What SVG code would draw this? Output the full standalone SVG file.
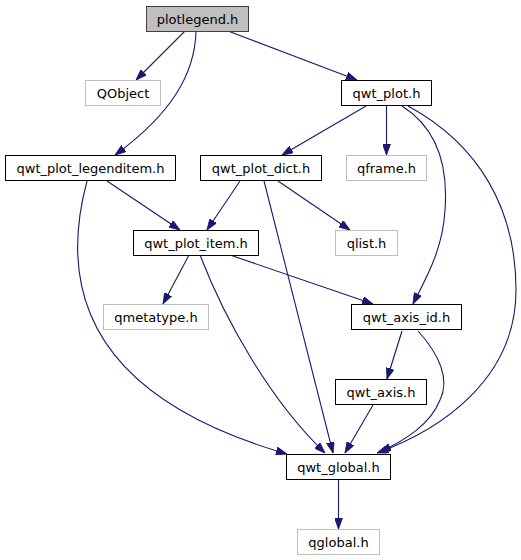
<svg xmlns="http://www.w3.org/2000/svg" width="521" height="560" viewBox="0 0 521 560">
<style>
.n rect{fill:#fff;stroke:#000;stroke-width:1}
.g rect{fill:#fff;stroke:#bfbfbf;stroke-width:1}
.r rect{fill:#bfbfbf;stroke:#404040;stroke-width:1}
text{font-family:"DejaVu Sans",sans-serif;font-size:13px;text-anchor:middle;fill:#000}
#edges path{fill:none;stroke:#191970;stroke-width:1.1;marker-end:url(#a)}
</style>
<defs>
<marker id="a" viewBox="0 0 11 8" refX="11" refY="4" markerWidth="11" markerHeight="8" markerUnits="userSpaceOnUse" orient="auto">
<path d="M0,0 L11,4 L0,8 z" fill="#191970" stroke="#191970" stroke-width="0.8"/>
</marker>
</defs>
<rect width="521" height="560" fill="#fff"/>
<g id="edges">
<path d="M185,31 L136,80"/>
<path d="M196,31 C195,75 170,115 115,155"/>
<path d="M228,31 L357,80"/>
<path d="M366,106 L282,155"/>
<path d="M386.5,106 L386.5,155"/>
<path d="M402,106 C440,130 448,170 445,210 C443,250 425,280 413,304"/>
<path d="M408,106 C480,145 516,210 516,290 C516,380 440,430 377,453"/>
<path d="M107,181 L180,230"/>
<path d="M87,181 C55,300 100,400 287,454"/>
<path d="M240,181 L207,230"/>
<path d="M278,181 L350,230"/>
<path d="M264,181 L333,453"/>
<path d="M189,255 L163,304"/>
<path d="M200,255 C225,320 270,400 325,453"/>
<path d="M230,255 L373,304"/>
<path d="M402,331 L387,379"/>
<path d="M418,331 C440,355 450,380 440,400 C430,425 405,440 380,452"/>
<path d="M373,405 L345,453"/>
<path d="M338.5,479 L338.5,529"/>
</g>
<g id="plotlegend" class="r"><rect x="146.5" y="6.5" width="102" height="25"/><text x="197.5" y="23.5">plotlegend.h</text></g>
<g id="QObject" class="g"><rect x="85.5" y="80.5" width="75" height="25"/><text x="123" y="97.5">QObject</text></g>
<g id="qwt_plot" class="n"><rect x="341.5" y="80.5" width="90" height="25"/><text x="386.5" y="97.5">qwt_plot.h</text></g>
<g id="qwt_plot_legenditem" class="n"><rect x="5.5" y="155.5" width="170" height="25"/><text x="90.5" y="172.5">qwt_plot_legenditem.h</text></g>
<g id="qwt_plot_dict" class="n"><rect x="200.5" y="155.5" width="121" height="25"/><text x="261" y="172.5">qwt_plot_dict.h</text></g>
<g id="qframe" class="g"><rect x="346.5" y="155.5" width="80" height="25"/><text x="386.5" y="172.5">qframe.h</text></g>
<g id="qwt_plot_item" class="n"><rect x="133.5" y="230.5" width="125" height="25"/><text x="196" y="247.5">qwt_plot_item.h</text></g>
<g id="qlist" class="g"><rect x="335.5" y="230.5" width="62" height="25"/><text x="366.5" y="247.5">qlist.h</text></g>
<g id="qmetatype" class="g"><rect x="103.5" y="304.5" width="105" height="25"/><text x="156" y="321.5">qmetatype.h</text></g>
<g id="qwt_axis_id" class="n"><rect x="351.5" y="304.5" width="110" height="25"/><text x="406.5" y="321.5">qwt_axis_id.h</text></g>
<g id="qwt_axis" class="n"><rect x="335.5" y="379.5" width="91" height="25"/><text x="381" y="396.5">qwt_axis.h</text></g>
<g id="qwt_global" class="n"><rect x="286.5" y="454.5" width="104" height="25"/><text x="338.5" y="471.5">qwt_global.h</text></g>
<g id="qglobal" class="g"><rect x="297.5" y="529.5" width="82" height="25"/><text x="338.5" y="546.5">qglobal.h</text></g>
</svg>
